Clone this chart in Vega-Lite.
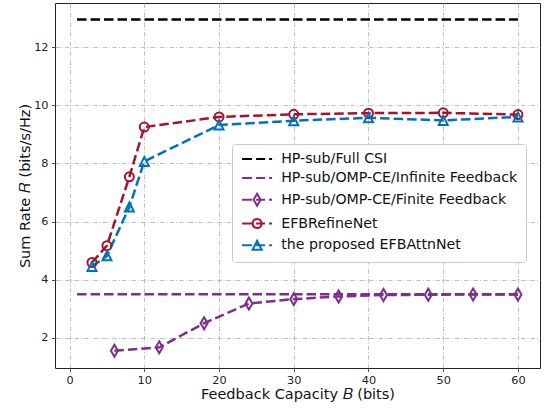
{
  "$schema": "https://vega.github.io/schema/vega-lite/v6.json",
  "width": 485,
  "height": 365,
  "autosize": {"type": "none"},
  "padding": {"left": 55, "top": 3, "right": 6, "bottom": 41},
  "background": "white",
  "config": {
    "font": "DejaVu Sans",
    "view": {"stroke": "#222222", "strokeWidth": 1},
    "axis": {
      "domain": false,
      "grid": true,
      "gridColor": "#b0b0b0",
      "gridDash": [4.5, 2, 1, 2],
      "gridWidth": 0.8,
      "tickColor": "#222222",
      "tickSize": 3.5,
      "tickWidth": 0.8,
      "labelColor": "#222222",
      "labelFontSize": 11.3,
      "titleColor": "#111111",
      "titleFontSize": 14.5,
      "titleFontWeight": "normal"
    }
  },
  "datasets": {
    "main": [
      {"series": "HP-sub/Full CSI", "B": 1, "R": 12.95},
      {"series": "HP-sub/Full CSI", "B": 60, "R": 12.95},
      {"series": "HP-sub/OMP-CE/Infinite Feedback", "B": 1, "R": 3.5},
      {"series": "HP-sub/OMP-CE/Infinite Feedback", "B": 60, "R": 3.5},
      {"series": "HP-sub/OMP-CE/Finite Feedback", "B": 6, "R": 1.55},
      {"series": "HP-sub/OMP-CE/Finite Feedback", "B": 12, "R": 1.67},
      {"series": "HP-sub/OMP-CE/Finite Feedback", "B": 18, "R": 2.5},
      {"series": "HP-sub/OMP-CE/Finite Feedback", "B": 24, "R": 3.18},
      {"series": "HP-sub/OMP-CE/Finite Feedback", "B": 30, "R": 3.33},
      {"series": "HP-sub/OMP-CE/Finite Feedback", "B": 36, "R": 3.42},
      {"series": "HP-sub/OMP-CE/Finite Feedback", "B": 42, "R": 3.47},
      {"series": "HP-sub/OMP-CE/Finite Feedback", "B": 48, "R": 3.48},
      {"series": "HP-sub/OMP-CE/Finite Feedback", "B": 54, "R": 3.49},
      {"series": "HP-sub/OMP-CE/Finite Feedback", "B": 60, "R": 3.49},
      {"series": "EFBRefineNet", "B": 3, "R": 4.59},
      {"series": "EFBRefineNet", "B": 5, "R": 5.17},
      {"series": "EFBRefineNet", "B": 8, "R": 7.54},
      {"series": "EFBRefineNet", "B": 10, "R": 9.25},
      {"series": "EFBRefineNet", "B": 20, "R": 9.6},
      {"series": "EFBRefineNet", "B": 30, "R": 9.69},
      {"series": "EFBRefineNet", "B": 40, "R": 9.73},
      {"series": "EFBRefineNet", "B": 50, "R": 9.74},
      {"series": "EFBRefineNet", "B": 60, "R": 9.68},
      {"series": "the proposed EFBAttnNet", "B": 3, "R": 4.45},
      {"series": "the proposed EFBAttnNet", "B": 5, "R": 4.82},
      {"series": "the proposed EFBAttnNet", "B": 8, "R": 6.5},
      {"series": "the proposed EFBAttnNet", "B": 10, "R": 8.07},
      {"series": "the proposed EFBAttnNet", "B": 20, "R": 9.32},
      {"series": "the proposed EFBAttnNet", "B": 30, "R": 9.47},
      {"series": "the proposed EFBAttnNet", "B": 40, "R": 9.57},
      {"series": "the proposed EFBAttnNet", "B": 50, "R": 9.48},
      {"series": "the proposed EFBAttnNet", "B": 60, "R": 9.6}
    ],
    "names": [
      {"series": "HP-sub/Full CSI"},
      {"series": "HP-sub/OMP-CE/Infinite Feedback"},
      {"series": "HP-sub/OMP-CE/Finite Feedback"},
      {"series": "EFBRefineNet"},
      {"series": "the proposed EFBAttnNet"}
    ]
  },
  "layer": [
    {
      "data": {"name": "main"},
      "mark": {"type": "line", "strokeWidth": 2.5, "strokeDash": [9.5, 4], "strokeCap": "butt", "clip": true},
      "encoding": {
        "x": {
          "field": "B", "type": "quantitative",
          "scale": {"domain": [-1.95, 62.95], "nice": false, "zero": false},
          "axis": {"values": [0, 10, 20, 30, 40, 50, 60], "title": "Feedback Capacity 𝐵 (bits)", "labelPadding": 3, "titlePadding": 2}
        },
        "y": {
          "field": "R", "type": "quantitative",
          "scale": {"domain": [0.96, 13.52], "nice": false, "zero": false},
          "axis": {"values": [2, 4, 6, 8, 10, 12], "title": "Sum Rate 𝑅 (bits/s/Hz)", "labelPadding": 3.5, "titlePadding": 1}
        },
        "color": {
          "field": "series", "type": "nominal",
          "scale": {
            "domain": ["the proposed EFBAttnNet", "EFBRefineNet", "HP-sub/OMP-CE/Finite Feedback", "HP-sub/OMP-CE/Infinite Feedback", "HP-sub/Full CSI"],
            "range": ["#0072BD", "#A2142F", "#7E2F8E", "#7E2F8E", "#000000"]
          },
          "legend": null
        },
        "order": {"field": "B", "type": "quantitative"}
      }
    },
    {
      "data": {"name": "main"},
      "transform": [{"filter": "datum.series === 'HP-sub/OMP-CE/Finite Feedback'"}],
      "mark": {"type": "point", "filled": false, "color": "#7E2F8E", "strokeWidth": 2, "size": 100, "shape": "M0,-1.2L0.7,0L0,1.2L-0.7,0Z", "opacity": 1},
      "encoding": {"x": {"field": "B", "type": "quantitative"}, "y": {"field": "R", "type": "quantitative"}}
    },
    {
      "data": {"name": "main"},
      "transform": [{"filter": "datum.series === 'EFBRefineNet'"}],
      "mark": {"type": "point", "filled": false, "color": "#A2142F", "strokeWidth": 2, "size": 81, "shape": "circle", "opacity": 1},
      "encoding": {"x": {"field": "B", "type": "quantitative"}, "y": {"field": "R", "type": "quantitative"}}
    },
    {
      "data": {"name": "main"},
      "transform": [{"filter": "datum.series === 'the proposed EFBAttnNet'"}],
      "mark": {"type": "point", "filled": false, "color": "#0072BD", "strokeWidth": 2, "size": 81, "shape": "M0,-1L1,1L-1,1Z", "opacity": 1},
      "encoding": {"x": {"field": "B", "type": "quantitative"}, "y": {"field": "R", "type": "quantitative"}}
    },
    {
      "data": {"name": "names"},
      "mark": {"type": "point", "filled": false, "strokeWidth": 2, "size": 100, "opacity": 0},
      "encoding": {
        "stroke": {
          "field": "series", "type": "nominal",
          "scale": {
            "domain": ["HP-sub/Full CSI", "HP-sub/OMP-CE/Infinite Feedback", "HP-sub/OMP-CE/Finite Feedback", "EFBRefineNet", "the proposed EFBAttnNet"],
            "range": ["#000000", "#7E2F8E", "#7E2F8E", "#A2142F", "#0072BD"]
          },
          "legend": {
            "title": null,
            "orient": "none",
            "legendX": 177,
            "legendY": 141,
            "fillColor": "white",
            "strokeColor": "#cccccc",
            "cornerRadius": 3,
            "padding": 8,
            "labelFontSize": 14.2,
            "labelColor": "#111111",
            "labelOffset": 27,
            "labelLimit": 400,
            "rowPadding": 3.8,
            "symbolSize": 100,
            "symbolStrokeWidth": 2,
            "symbolOpacity": 1,
            "symbolFillColor": "transparent"
          }
        },
        "shape": {
          "field": "series", "type": "nominal",
          "scale": {
            "domain": ["HP-sub/Full CSI", "HP-sub/OMP-CE/Infinite Feedback", "HP-sub/OMP-CE/Finite Feedback", "EFBRefineNet", "the proposed EFBAttnNet"],
            "range": [
              "M-1,0H1M1.8,0H3.6M4.4,0H5",
              "M-1,0H1M1.8,0H3.6M4.4,0H5",
              "M-1,0H1M1.8,0H3.6M4.4,0H5M2,-1.2L2.7,0L2,1.2L1.3,0Z",
              "M-1,0H1M1.8,0H3.6M4.4,0H5M2.9,0A0.9,0.9,0,1,1,1.1,0A0.9,0.9,0,1,1,2.9,0Z",
              "M-1,0H1M1.8,0H3.6M4.4,0H5M2,-0.9L2.9,0.9L1.1,0.9Z"
            ]
          },
          "legend": {
            "title": null,
            "orient": "none",
            "legendX": 177,
            "legendY": 141,
            "fillColor": "white",
            "strokeColor": "#cccccc",
            "cornerRadius": 3,
            "padding": 8,
            "labelFontSize": 14.2,
            "labelColor": "#111111",
            "labelOffset": 27,
            "labelLimit": 400,
            "rowPadding": 3.8,
            "symbolSize": 100,
            "symbolStrokeWidth": 2,
            "symbolOpacity": 1,
            "symbolFillColor": "transparent"
          }
        }
      }
    }
  ]
}
